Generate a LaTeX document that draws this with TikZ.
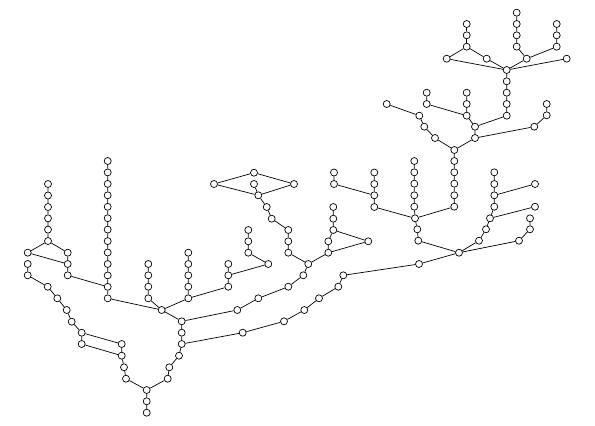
\documentclass[tikz,border=0pt]{standalone}
\tikzset{every picture/.style={line width=0.7pt}}
\tikzset{v/.style={circle,draw,fill=white,inner sep=0pt,minimum size=7pt}}

\begin{document}
\begin{tikzpicture}[x=1pt,y=1pt,yscale=-1,xscale=1]
\useasboundingbox (0,0) rectangle (595,426);
%Left branch
\node[v] (l1) at (48,184) {}; \node[v] (l2) at (48,195.5) {}; \node[v] (l3) at (48,207) {};
\node[v] (l4) at (48,218.3) {}; \node[v] (l5) at (48,229.6) {}; \node[v] (l6) at (48,241) {};
\node[v] (la) at (27.7,252.7) {}; \node[v] (lb) at (67.7,252.7) {};
\node[v] (lc) at (67.7,264) {}; \node[v] (ld) at (67.7,275.3) {};
\node[v] (le) at (27.7,264) {}; \node[v] (lf) at (27.7,275.3) {}; \node[v] (lg) at (47.7,286.7) {};
\node[v] (lh) at (57.3,298.3) {}; \node[v] (li) at (66.7,310) {}; \node[v] (lj) at (71.7,321.7) {};
\node[v] (lk) at (81.7,332.7) {}; \node[v] (ll) at (81.7,344) {};
\node[v] (lm) at (121.7,344) {}; \node[v] (ln) at (121.7,355.7) {};
\node[v] (lo) at (124,367.3) {}; \node[v] (lp) at (126,378.7) {};
%Bottom
\node[v] (w1) at (146.7,390) {}; \node[v] (w2) at (146.7,401.3) {}; \node[v] (w3) at (146.7,412.7) {};
\node[v] (r1) at (167.7,378.7) {}; \node[v] (r2) at (169.3,367.3) {}; \node[v] (r3) at (179,355.7) {};
\node[v] (r4) at (181.7,344) {}; \node[v] (r5) at (181.7,332.7) {}; \node[v] (r6) at (181.7,321.3) {};
%Tall column
\node[v] (t1) at (107.7,161) {}; \node[v] (t2) at (107.7,172.4) {}; \node[v] (t3) at (107.7,183.9) {};
\node[v] (t4) at (107.7,195.3) {}; \node[v] (t5) at (107.7,206.8) {}; \node[v] (t6) at (107.7,218.2) {};
\node[v] (t7) at (107.7,229.6) {}; \node[v] (t8) at (107.7,241.1) {}; \node[v] (t9) at (107.7,252.5) {};
\node[v] (t10) at (107.7,264) {}; \node[v] (t11) at (107.7,275.4) {}; \node[v] (t12) at (107.7,286.8) {};
\node[v] (t13) at (107.7,298.3) {};
\node[v] (h) at (161.7,310) {};
\node[v] (a1) at (148.3,264) {}; \node[v] (a2) at (148.3,275.3) {}; \node[v] (a3) at (148.3,286.7) {}; \node[v] (a4) at (148.3,298.3) {};
\node[v] (b1) at (188.3,252.7) {}; \node[v] (b2) at (188.3,264) {}; \node[v] (b3) at (188.3,275.3) {};
\node[v] (b4) at (188.3,286.7) {}; \node[v] (b5) at (188.3,298.3) {};
\node[v] (c1) at (228.3,264) {}; \node[v] (c2) at (228.3,275.3) {}; \node[v] (c3) at (228.3,286.7) {};
\node[v] (c4) at (268.3,264) {};
\node[v] (d1) at (248.3,230) {}; \node[v] (d2) at (248.3,241.3) {}; \node[v] (d3) at (248.3,252.7) {};
%Middle
\node[v] (e1) at (237.3,310) {}; \node[v] (e2) at (258.3,298.3) {}; \node[v] (e3) at (288.3,286.7) {};
\node[v] (e4) at (303.3,275.3) {}; \node[v] (e5) at (308.3,264) {};
\node[v] (p1) at (214,184) {}; \node[v] (p2) at (254,172.7) {}; \node[v] (p3) at (294,184) {};
\node[v] (p4) at (254,184) {}; \node[v] (p5) at (258.3,195.3) {}; \node[v] (p6) at (266.7,207) {};
\node[v] (p7) at (271.7,218.7) {}; \node[v] (p8) at (288.3,230) {}; \node[v] (p9) at (288.3,241.3) {};
\node[v] (p10) at (288.3,252.7) {};
\node[v] (q1) at (328.3,252.7) {}; \node[v] (q2) at (328.3,241.3) {}; \node[v] (q3) at (333.3,230) {};
\node[v] (q4) at (333.3,218.7) {}; \node[v] (q5) at (333.3,207) {}; \node[v] (q6) at (368.3,241.3) {};
\node[v] (f1) at (242.7,332.7) {}; \node[v] (f2) at (284,321.3) {}; \node[v] (f3) at (304.3,310) {};
\node[v] (f4) at (319,298.3) {}; \node[v] (f5) at (338.3,286.7) {}; \node[v] (f6) at (343.3,275.3) {};
\node[v] (f7) at (419,264) {};
%Right
\node[v] (g) at (459,252.7) {};
\node[v] (m1) at (334,172.5) {}; \node[v] (m2) at (334,184) {};
\node[v] (k1) at (374.3,172.5) {}; \node[v] (k2) at (374.3,184) {}; \node[v] (k3) at (374.3,195.3) {}; \node[v] (k4) at (374.3,207) {};
\node[v] (s1) at (414.3,161) {}; \node[v] (s2) at (414.3,172.3) {}; \node[v] (s3) at (414.3,183.7) {};
\node[v] (s4) at (414.3,195.3) {}; \node[v] (s5) at (414.3,206.7) {}; \node[v] (s6) at (415,218.3) {};
\node[v] (s7) at (417.3,229.3) {}; \node[v] (s8) at (418.3,240.7) {};
\node[v] (u1) at (454.3,150) {}; \node[v] (u2) at (454.3,161) {}; \node[v] (u3) at (454.3,172.3) {};
\node[v] (u4) at (454.3,183.7) {}; \node[v] (u5) at (454.3,195.3) {}; \node[v] (u6) at (454.3,206.7) {};
\node[v] (n1) at (479,240.7) {}; \node[v] (n2) at (486,229.3) {}; \node[v] (n3) at (490,218.3) {};
\node[v] (n4) at (494.3,206.7) {}; \node[v] (n5) at (494.3,195.3) {}; \node[v] (n6) at (494.3,184) {};
\node[v] (n7) at (494.3,172.3) {}; \node[v] (n8) at (535,184) {}; \node[v] (n9) at (535,206.7) {};
\node[v] (o1) at (519,240.7) {}; \node[v] (o2) at (530,229.3) {}; \node[v] (o3) at (530,218.3) {};
%Upper right
\node[v] (v1) at (435,138) {}; \node[v] (v2) at (424.3,126.7) {}; \node[v] (v3) at (419.3,115.7) {}; \node[v] (v4) at (386.7,104) {};
\node[v] (x1) at (475,138) {}; \node[v] (x2) at (475,126.7) {}; \node[v] (x3) at (466.7,115.7) {};
\node[v] (x4) at (466.7,104) {}; \node[v] (x5) at (466.7,92.7) {};
\node[v] (x6) at (426.7,104) {}; \node[v] (x7) at (426.7,92.7) {};
\node[v] (y1) at (506.7,115.7) {}; \node[v] (y2) at (506.7,104) {}; \node[v] (y3) at (506.7,92.7) {};
\node[v] (y4) at (506.7,81.3) {}; \node[v] (y5) at (506.7,70) {};
\node[v] (z1) at (534.3,126.7) {}; \node[v] (z2) at (546.7,115.3) {}; \node[v] (z3) at (546.7,104) {};
%Top
\node[v] (ta) at (446.7,58.7) {}; \node[v] (tb) at (486.7,58.7) {}; \node[v] (tc) at (466.7,46.7) {};
\node[v] (td) at (466.7,35.3) {}; \node[v] (te) at (466.7,24) {};
\node[v] (tf) at (526.7,58.7) {}; \node[v] (tg) at (516.7,46.7) {}; \node[v] (th) at (516.7,35.3) {};
\node[v] (ti) at (516.7,24) {}; \node[v] (tj) at (516.7,12.7) {};
\node[v] (tk) at (556.7,46.7) {}; \node[v] (tl) at (556.7,35.3) {}; \node[v] (tm) at (556.7,24) {};
\node[v] (tn) at (566.7,58.7) {};

%Edges
\draw (l1) -- (l2) -- (l3) -- (l4) -- (l5) -- (l6) -- (la) -- (lc) -- (ld) -- (t12);
\draw (l6) -- (lb) -- (lc);
\draw (le) -- (lf) -- (lg) -- (lh) -- (li) -- (lj) -- (lk) -- (ll) -- (ln) -- (lo) -- (lp) -- (w1) -- (w2) -- (w3);
\draw (lk) -- (lm) -- (ln);
\draw (w1) -- (r1) -- (r2) -- (r3) -- (r4) -- (r5) -- (r6) -- (h);
\draw (t1) -- (t2) -- (t3) -- (t4) -- (t5) -- (t6) -- (t7) -- (t8) -- (t9) -- (t10) -- (t11) -- (t12) -- (t13) -- (h);
\draw (a1) -- (a2) -- (a3) -- (a4) -- (h);
\draw (b1) -- (b2) -- (b3) -- (b4) -- (b5) -- (h);
\draw (b5) -- (c3) -- (c2) -- (c1);
\draw (c2) -- (c4) -- (d3) -- (d2) -- (d1);
\draw (r6) -- (e1) -- (e2) -- (e3) -- (e4) -- (e5);
\draw (p1) -- (p2) -- (p3) -- (p5) -- (p1);
\draw (p4) -- (p5) -- (p6) -- (p7) -- (p8) -- (p9) -- (p10) -- (e5);
\draw (e5) -- (q1) -- (q2) -- (q3) -- (q4) -- (q5);
\draw (q3) -- (q6) -- (q1);
\draw (r4) -- (f1) -- (f2) -- (f3) -- (f4) -- (f5) -- (f6) -- (f7) -- (g);
\draw (m1) -- (m2) -- (k3);
\draw (k1) -- (k2) -- (k3) -- (k4) -- (s6);
\draw (s1) -- (s2) -- (s3) -- (s4) -- (s5) -- (s6) -- (s7) -- (s8) -- (g);
\draw (u1) -- (u2) -- (u3) -- (u4) -- (u5) -- (u6) -- (s6);
\draw (g) -- (n1) -- (n2) -- (n3) -- (n4) -- (n5) -- (n6) -- (n7);
\draw (n5) -- (n8);
\draw (n3) -- (n9);
\draw (g) -- (o1) -- (o2) -- (o3);
\draw (u1) -- (v1) -- (v2) -- (v3) -- (v4);
\draw (u1) -- (x1) -- (x2) -- (x3) -- (x4) -- (x5);
\draw (x3) -- (x6) -- (x7);
\draw (x2) -- (y1) -- (y2) -- (y3) -- (y4) -- (y5);
\draw (x1) -- (z1) -- (z2) -- (z3);
\draw (y5) -- (ta) -- (tc) -- (tb) -- (y5);
\draw (tc) -- (td) -- (te);
\draw (y5) -- (tf) -- (tg) -- (th) -- (ti) -- (tj);
\draw (tf) -- (tk) -- (tl) -- (tm);
\draw (y5) -- (tn);
\end{tikzpicture}
\end{document}
